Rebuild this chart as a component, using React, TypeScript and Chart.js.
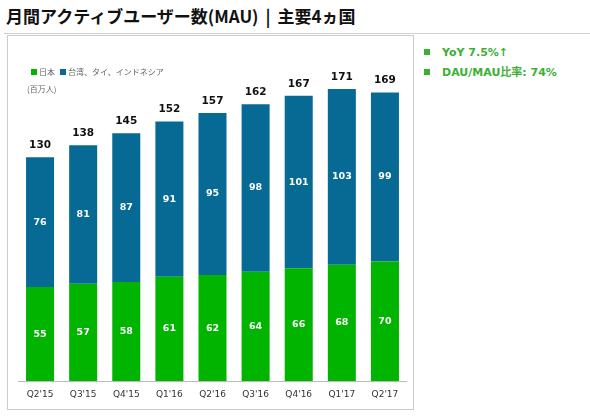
import React, { useEffect, useRef } from "react";
import { Chart, registerables } from "chart.js";

Chart.register(...registerables);

const categories = ["Q2'15", "Q3'15", "Q4'15", "Q1'16", "Q2'16", "Q3'16", "Q4'16", "Q1'17", "Q2'17"];
const japan = [55, 57, 58, 61, 62, 64, 66, 68, 70];
const others = [76, 81, 87, 91, 95, 98, 101, 103, 99];
const totals = [130, 138, 145, 152, 157, 162, 167, 171, 169];
const seriesNames = ["日本", "台湾、タイ、インドネシア"];
const unitLabel = "(百万人)";
const titleMain = "月間アクティブユーザー数(MAU)";
const titleSub = "主要4ヵ国";
const notes = ["YoY 7.5%↑", "DAU/MAU比率: 74%"];

const GREEN = "#00b400";
const BLUE = "#076a94";
const NOTE_GREEN = "#3cb034";

const labelPlugin = {
  id: "barLabels",
  afterDatasetsDraw(chart: any) {
    const ctx = chart.ctx;
    ctx.save();
    ctx.textAlign = "center";
    ctx.textBaseline = "middle";
    chart.data.datasets.forEach((ds: any, di: number) => {
      const meta = chart.getDatasetMeta(di);
      meta.data.forEach((el: any, i: number) => {
        const y = (el.y + el.base) / 2;
        ctx.fillStyle = "#ffffff";
        ctx.font = "bold 9.5px 'DejaVu Sans', Verdana, sans-serif";
        ctx.fillText(String(ds.data[i]), el.x, y);
      });
    });
    const top = chart.getDatasetMeta(chart.data.datasets.length - 1);
    top.data.forEach((el: any, i: number) => {
      ctx.fillStyle = "#111111";
      ctx.font = "bold 10.5px 'DejaVu Sans', Verdana, sans-serif";
      ctx.fillText(String(totals[i]), el.x, el.y - 12);
    });
    ctx.restore();
  },
};

export default function App() {
  const ref = useRef<HTMLCanvasElement>(null);
  useEffect(() => {
    if (!ref.current) return;
    const chart = new Chart(ref.current, {
      type: "bar",
      data: {
        labels: categories,
        datasets: [
          { label: seriesNames[0], data: japan, backgroundColor: GREEN, barPercentage: 0.65, categoryPercentage: 1 },
          { label: seriesNames[1], data: others, backgroundColor: BLUE, barPercentage: 0.65, categoryPercentage: 1 },
        ],
      },
      options: {
        responsive: false,
        animation: false,
        layout: { padding: { left: 10.5, right: 6.5, top: 37.6, bottom: 8 } },
        plugins: { legend: { display: false }, tooltip: { enabled: false } },
        scales: {
          x: {
            stacked: true,
            grid: { display: false, drawTicks: false },
            border: { display: true, color: "#bbbbbb", width: 1 },
            ticks: { color: "#333333", padding: 8, font: { family: "'DejaVu Sans', Verdana, sans-serif", size: 9 } },
            afterFit: (s: any) => { s.height = 20; },
          },
          y: { stacked: true, display: false, min: 0, max: 180 },
        },
      },
      plugins: [labelPlugin],
    });
    return () => chart.destroy();
  }, []);

  const sq = (c: string, size: number) => (
    <span style={{ display: "inline-block", width: size, height: size, background: c, marginRight: 2, verticalAlign: "middle" }} />
  );

  return (
    <div style={{ position: "fixed", left: 0, top: 0, width: 590, height: 416, background: "#fff", fontFamily: "'Noto Sans CJK JP', sans-serif" }}>
      <div style={{ position: "absolute", left: 6, top: 3, fontSize: 17, fontWeight: 700, color: "#111", whiteSpace: "nowrap", lineHeight: "26px" }}>
        {titleMain}<span style={{ margin: "0 7px" }}>|</span>{titleSub}
      </div>
      <div style={{ position: "absolute", left: 4, top: 33, width: 586, height: 1, background: "#d0d0d0" }} />
      <div style={{ position: "absolute", left: 7, top: 35, width: 405, height: 373, border: "1px solid #cccccc" }} />
      <div style={{ position: "absolute", left: 8, top: 36 }}>
        <canvas ref={ref} width={405} height={373} style={{ display: "block" }} />
      </div>
      <div style={{ position: "absolute", left: 31, top: 65, fontSize: 8, color: "#666", whiteSpace: "nowrap", lineHeight: "12px" }}>
        {sq(GREEN, 6)}<span style={{ verticalAlign: "middle", marginRight: 5 }}>{seriesNames[0]}</span>
        {sq(BLUE, 6)}<span style={{ verticalAlign: "middle" }}>{seriesNames[1]}</span>
      </div>
      <div style={{ position: "absolute", left: 27, top: 83, fontSize: 8, color: "#666", whiteSpace: "nowrap", lineHeight: "12px" }}>{unitLabel}</div>
      {notes.map((n, i) => (
        <div key={i} style={{ position: "absolute", left: 424, top: 45 + i * 20, fontSize: 11, fontWeight: 700, color: NOTE_GREEN, whiteSpace: "nowrap", lineHeight: "16px", fontFamily: "'DejaVu Sans', 'Noto Sans CJK JP', sans-serif" }}>
          <span style={{ display: "inline-block", width: 6, height: 6, background: NOTE_GREEN, marginRight: 12, verticalAlign: "middle", position: "relative", top: -1 }} />
          <span style={{ verticalAlign: "middle" }}>{n}</span>
        </div>
      ))}
    </div>
  );
}
